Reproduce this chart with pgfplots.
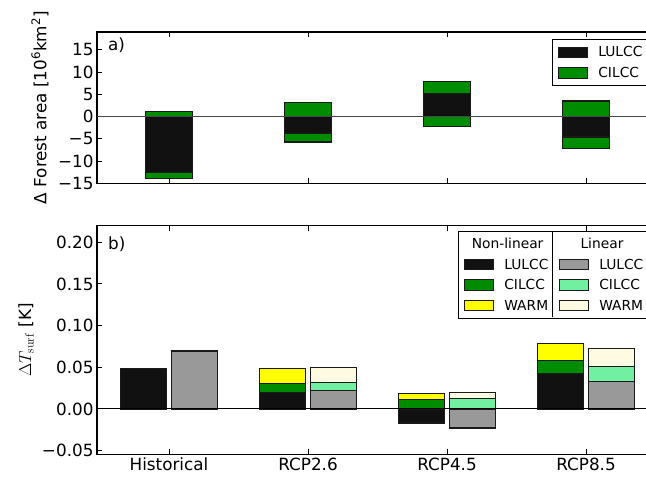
\documentclass[border=0pt]{standalone}
\usepackage[no-math]{fontspec}
\setmainfont{DejaVu Sans}
\usepackage{pgfplots}
\pgfplotsset{compat=1.18}
\definecolor{cblack}{HTML}{111111}
\definecolor{cgreen}{RGB}{0,140,0}
\definecolor{cyellow}{HTML}{FFFF00}
\definecolor{cgray}{HTML}{999999}
\definecolor{cmint}{HTML}{70F0A0}
\definecolor{ccream}{HTML}{FFFBE3}
\definecolor{cedge}{HTML}{1A1A1A}
\newcommand\tickf{\fontsize{16.8bp}{20bp}\selectfont}
\newcommand\legf{\fontsize{13.8bp}{16bp}\selectfont}
\pgfplotsset{
  patchleg/.style={legend image code/.code={\draw[##1] (0bp,-5.25bp) rectangle (29bp,5.25bp);}},
  common/.style={
    scale only axis, width=561bp,
    xmin=-0.518, xmax=3.518,
    xtick={0,1,2,3}, tick pos=both, tick align=inside,
    major tick length=5bp,
    tick style={black, line width=1bp},
    axis line style={black, line width=1.1bp},
    ticklabel style={font=\tickf},
    label style={font=\tickf},
    bar width=0.335,
    legend cell align=left,
    legend style={font=\legf, draw=black, line width=1.1bp,
      inner xsep=5bp, inner ysep=6bp, column sep=10.4bp, row sep=7.5bp,
      nodes={inner sep=0pt, text height=11bp, text depth=2bp},
      anchor=north west},
  },
  barst/.style={ybar, draw=cedge, line width=1.25bp, forget plot},
}
\begin{document}
\begin{tikzpicture}
\path[use as bounding box] (0,0) rectangle (646bp,478bp);
\clip (0,0) rectangle (646bp,478bp);
% ---------- panel a ----------
\begin{axis}[common,
  at={(97bp,294.7bp)}, anchor=south west, height=151.3bp,
  ymin=-15, ymax=19,
  ytick={-15,-10,-5,0,5,10,15},
  yticklabels={−15,−10,−5,0,5,10,15},
  xticklabels={},
  ylabel={Δ Forest area [10\textsuperscript{6}km\textsuperscript{2}]},
  ylabel style={at={(axis description cs:-0.1016,0.5)}, anchor=center},
  legend style={at={(axis description cs:0.8116,0.9518)}},
]
\addplot[barst, bar shift=0, fill=cgreen] coordinates {(0,1.1) (1,3.13) (2,7.9) (3,3.5)};
\addplot[barst, bar shift=0, fill=cgreen] coordinates {(0,-13.9) (1,-5.7) (2,-2.2) (3,-7.2)};
\addplot[barst, bar shift=0, fill=cblack] coordinates {(0,-12.6) (1,-3.8) (2,5.1) (3,-4.6)};
\addplot[sharp plot, no marks, color=black!72, line width=1.3bp, forget plot] coordinates {(-0.518,0) (3.518,0)};
\addlegendimage{patchleg, fill=cblack, draw=cedge}
\addlegendentry{\makebox[60bp][l]{LULCC}}
\addlegendimage{patchleg, fill=cgreen, draw=cedge}
\addlegendentry{CILCC}
\node[anchor=base west, inner sep=0pt, font=\tickf] at (rel axis cs:0.0196,0.881) {a)};
\end{axis}
% ---------- panel b ----------
\begin{axis}[common,
  at={(97bp,23.7bp)}, anchor=south west, height=228.6bp,
  ymin=-0.0545, ymax=0.22,
  ytick={-0.05,0,0.05,0.1,0.15,0.2},
  yticklabels={−0.05,0.00,0.05,0.10,0.15,0.20},
  xticklabels={Historical,RCP2.6,RCP4.5,RCP8.5},
  ylabel={$\Delta T_{\mathrm{surf}}$ [K]},
  ylabel style={at={(axis description cs:-0.1266,0.5)}, anchor=center},
  legend columns=2,
  legend style={at={(axis description cs:0.644,0.9768)}},
]
% non-linear (cumulative tops, drawn back to front)
\addplot[barst, bar shift=-0.184, fill=cyellow] coordinates {(0,0) (1,0.0486) (2,0.0185) (3,0.0786)};
\addplot[barst, bar shift=-0.184, fill=cgreen] coordinates {(0,0) (1,0.0309) (2,0.0117) (3,0.0577)};
\addplot[barst, bar shift=-0.184, fill=cblack] coordinates {(0,0.0486) (1,0.0193) (2,-0.0168) (3,0.0421)};
% linear
\addplot[barst, bar shift=0.184, fill=ccream] coordinates {(0,0.0705) (1,0.0498) (2,0.0193) (3,0.0726)};
\addplot[barst, bar shift=0.184, fill=cmint] coordinates {(0,0.0697) (1,0.0317) (2,0.0121) (3,0.0505)};
\addplot[barst, bar shift=0.184, fill=cgray] coordinates {(0,0.0688) (1,0.0221) (2,-0.0228) (3,0.0325)};
\addplot[sharp plot, no marks, color=black, line width=1.1bp, forget plot] coordinates {(-0.518,0) (3.518,0)};
\addlegendimage{empty legend}
\addlegendentry{\makebox[6.6bp][c]{Non-linear}}
\addlegendimage{empty legend}
\addlegendentry{\makebox[5.4bp][c]{Linear}}
\addlegendimage{patchleg, fill=cblack, draw=cedge}
\addlegendentry{LULCC}
\addlegendimage{patchleg, fill=cgray, draw=cedge}
\addlegendentry{\makebox[60bp][l]{LULCC}}
\addlegendimage{patchleg, fill=cgreen, draw=cedge}
\addlegendentry{CILCC}
\addlegendimage{patchleg, fill=cmint, draw=cedge}
\addlegendentry{CILCC}
\addlegendimage{patchleg, fill=cyellow, draw=cedge}
\addlegendentry{WARM}
\addlegendimage{patchleg, fill=ccream, draw=cedge}
\addlegendentry{WARM}
\node[anchor=base west, inner sep=0pt, font=\tickf] at (rel axis cs:0.0196,0.896) {b)};
\end{axis}
\draw[black, line width=1.1bp] (552.3bp,247bp) -- (552.3bp,160.7bp);
\end{tikzpicture}
\end{document}
